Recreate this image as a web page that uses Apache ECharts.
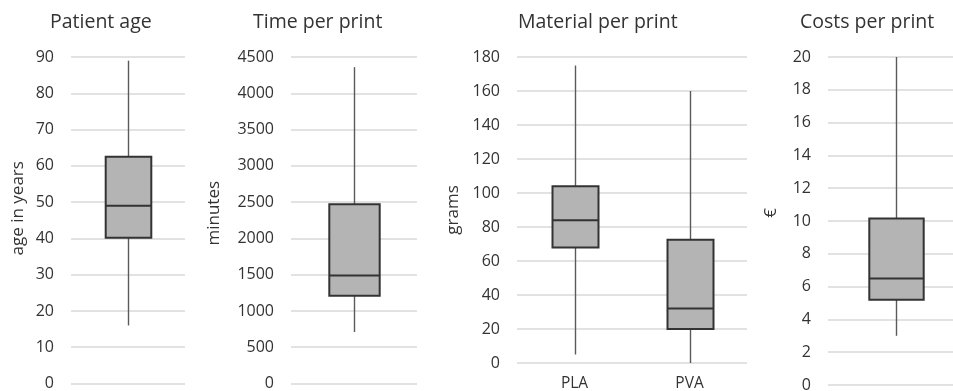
<!DOCTYPE html>
<html>
<head>
<meta charset="utf-8">
<script src="https://cdn.jsdelivr.net/npm/echarts@6/dist/echarts.min.js"></script>
<style>html,body{margin:0;padding:0;background:#fff}#c{width:953px;height:391px}</style>
</head>
<body>
<div id="c"></div>
<script>
// ---- data ----
const titles = ['Patient age', 'Time per print', 'Material per print', 'Costs per print'];
const axisNames = ['age in years', 'minutes', 'grams', '€'];
const ageCategories = [''];
const timeCategories = [''];
const materialCategories = ['PLA', 'PVA'];
const costCategories = [''];
// [low whisker, Q1, median, Q3, high whisker]
const ageStats = [[16, 40.2, 49, 62.5, 89]];
const timeStats = [[710, 1210, 1490, 2470, 4360]];
const materialStats = [[5, 68, 84, 104, 175], [0, 20, 32, 72.5, 160]];
const costStats = [[3, 5.2, 6.5, 10.15, 20]];
const yMax = [90, 4500, 180, 20];
const yInterval = [10, 500, 20, 2];

// ---- layout ----
const grids = [
  {left: 71, top: 57, width: 114, height: 326.5},
  {left: 291, top: 57, width: 126, height: 326.5},
  {left: 517, top: 57, width: 230, height: 306},
  {left: 828, top: 57, width: 136, height: 328}
];
const titleLefts = [45, 248, 513, 795];
const nameGaps = [44, 68, 55, 48];
const namePads = [[0,0,0,24],[0,0,0,14],[0,0,0,0],[0,0,0,16]];
const FONT = '"Open Sans", sans-serif';
const TXT = '#333333';

const catsList = [ageCategories, timeCategories, materialCategories, costCategories];
const statsList = [ageStats, timeStats, materialStats, costStats];

function renderBox(params, api) {
  const x = api.value(0);
  const low = api.coord([x, api.value(1)]);
  const q1 = api.coord([x, api.value(2)]);
  const med = api.coord([x, api.value(3)]);
  const q3 = api.coord([x, api.value(4)]);
  const high = api.coord([x, api.value(5)]);
  const bw = api.size([1, 0])[0] * 0.4;
  const cx = Math.round(low[0]) + 0.5;
  const l = cx - bw / 2;
  return {
    type: 'group',
    children: [
      {type: 'line', shape: {x1: cx, y1: high[1], x2: cx, y2: q3[1]}, style: {stroke: '#5a5a5a', lineWidth: 1.4}},
      {type: 'line', shape: {x1: cx, y1: q1[1], x2: cx, y2: low[1]}, style: {stroke: '#5a5a5a', lineWidth: 1.4}},
      {type: 'rect', shape: {x: l, y: q3[1], width: bw, height: q1[1] - q3[1]}, style: {fill: '#b4b4b4', stroke: '#333333', lineWidth: 2}},
      {type: 'line', shape: {x1: l, y1: med[1], x2: l + bw, y2: med[1]}, style: {stroke: '#333333', lineWidth: 2}}
    ]
  };
}

const option = {
  animation: false,
  backgroundColor: '#fff',
  title: titles.map((t, i) => ({
    text: t, left: titleLefts[i], top: 7,
    textStyle: {fontFamily: FONT, fontSize: 19.5, fontWeight: 'normal', color: TXT}
  })),
  grid: grids.map(g => Object.assign({containLabel: false, outerBoundsMode: 'none'}, g)),
  xAxis: catsList.map((c, i) => ({
    type: 'category', gridIndex: i, data: c,
    axisLine: {show: false}, axisTick: {show: false},
    axisLabel: {fontFamily: FONT, fontSize: 15.5, color: TXT, margin: 13},
    splitLine: {show: false}
  })),
  yAxis: yMax.map((m, i) => ({
    type: 'value', gridIndex: i, min: 0, max: m, interval: yInterval[i],
    name: axisNames[i], nameLocation: 'middle', nameGap: nameGaps[i], nameRotate: 90,
    nameTextStyle: {fontFamily: FONT, fontSize: 17, color: TXT, padding: namePads[i]},
    axisLine: {show: false}, axisTick: {show: false},
    axisLabel: {fontFamily: FONT, fontSize: 16, color: TXT, margin: 17, formatter: v => String(v)},
    splitLine: {lineStyle: {color: '#d9d9d9', width: 1.5}}
  })),
  series: statsList.map((s, i) => ({
    type: 'custom', xAxisIndex: i, yAxisIndex: i,
    renderItem: renderBox,
    encode: {x: 0, y: [1, 2, 3, 4, 5]},
    data: s.map((v, k) => [k].concat(v))
  }))
};
const chart = echarts.init(document.getElementById('c'), null, {renderer: 'canvas'});
chart.setOption(option);
</script>
</body>
</html>
